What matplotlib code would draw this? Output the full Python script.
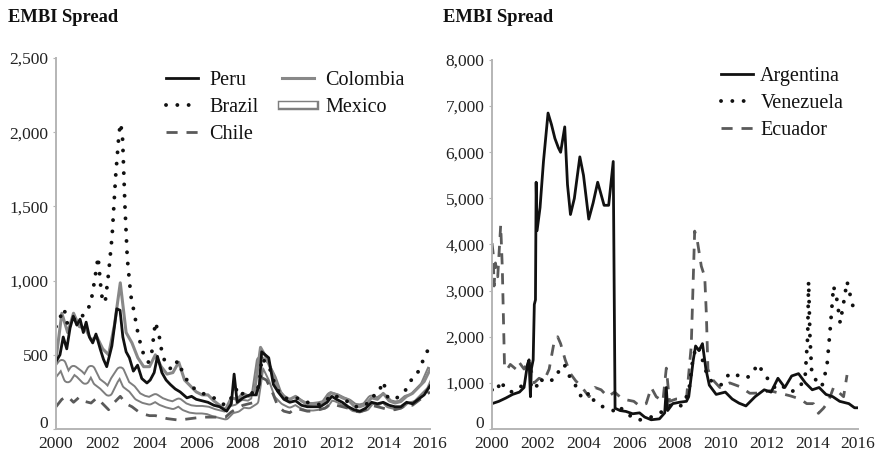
import matplotlib
matplotlib.use('Agg')
import numpy as np
import matplotlib.pyplot as plt
import matplotlib.transforms as mtransforms
from matplotlib.ticker import FuncFormatter, MultipleLocator

plt.rcParams['font.family'] = ['Liberation Serif', 'DejaVu Serif']

# ---------------- data: left panel ----------------
peru_x = [2000.0, 2000.17, 2000.31, 2000.46, 2000.6, 2000.74, 2000.89, 2001.03, 2001.17, 2001.29,
          2001.43, 2001.57, 2001.71, 2001.89, 2002.03, 2002.17, 2002.39, 2002.6, 2002.74, 2002.86,
          2003.0, 2003.14, 2003.31, 2003.49, 2003.67, 2003.89, 2004.03, 2004.2, 2004.34, 2004.53,
          2004.71, 2004.89, 2005.1, 2005.31, 2005.6, 2005.8, 2006.0, 2006.25, 2006.5, 2006.75,
          2007.0, 2007.3, 2007.5, 2007.62, 2007.75, 2008.0, 2008.3, 2008.55, 2008.7, 2008.8,
          2008.95, 2009.1, 2009.3, 2009.5, 2009.75, 2010.0, 2010.25, 2010.5, 2010.75, 2011.0,
          2011.3, 2011.6, 2011.8, 2012.0, 2012.25, 2012.5, 2012.75, 2013.0, 2013.25, 2013.5,
          2013.75, 2014.0, 2014.25, 2014.5, 2014.75, 2015.0, 2015.25, 2015.5, 2015.75, 2016.0]
peru_y = [454, 500, 620, 540, 680, 760, 700, 740, 650, 720,
          620, 580, 640, 540, 470, 420, 560, 810, 800, 620,
          520, 480, 390, 430, 340, 310, 330, 380, 490, 380,
          330, 300, 270, 250, 210, 220, 200, 190, 180, 160,
          150, 120, 170, 370, 180, 210, 230, 230, 300, 520,
          500, 480, 300, 250, 200, 180, 190, 160, 150, 150,
          150, 180, 220, 200, 180, 150, 130, 120, 140, 180,
          170, 180, 160, 150, 150, 180, 170, 200, 230, 290]

brazil_x = [2000.0, 2000.2, 2000.35, 2000.5, 2000.7, 2000.9, 2001.1, 2001.3, 2001.5, 2001.65,
            2001.8, 2001.95, 2002.1, 2002.25, 2002.4, 2002.55, 2002.7, 2002.77, 2002.85, 2002.95,
            2003.05, 2003.2, 2003.35, 2003.5, 2003.65, 2003.8, 2003.95, 2004.1, 2004.25, 2004.4,
            2004.55, 2004.75, 2005.0, 2005.2, 2005.4, 2005.6, 2005.8, 2006.0, 2006.25, 2006.5,
            2006.75, 2007.0, 2007.25, 2007.5, 2007.7, 2007.85, 2008.0, 2008.25, 2008.5, 2008.7,
            2008.8, 2008.95, 2009.1, 2009.3, 2009.5, 2009.75, 2010.0, 2010.25, 2010.5, 2010.75,
            2011.0, 2011.25, 2011.5, 2011.75, 2012.0, 2012.25, 2012.5, 2012.75, 2013.0, 2013.25,
            2013.5, 2013.75, 2014.0, 2014.2, 2014.5, 2014.75, 2015.0, 2015.2, 2015.4, 2015.6,
            2015.8, 2016.0]
brazil_y = [690, 760, 810, 700, 720, 770, 760, 780, 860, 1000,
            1160, 900, 850, 1050, 1300, 1700, 2000, 2060, 1950, 1500,
            1150, 900, 780, 650, 550, 480, 450, 520, 720, 640,
            500, 420, 400, 460, 390, 330, 290, 260, 240, 230,
            210, 180, 160, 210, 270, 220, 240, 260, 230, 300,
            480, 450, 430, 330, 260, 210, 200, 210, 200, 180,
            170, 165, 175, 230, 220, 195, 185, 150, 150, 160,
            220, 230, 320, 210, 200, 230, 270, 330, 350, 430,
            490, 570]

quarters = np.arange(2000.0, 2016.01, 0.25)
colombia_y = [470, 780, 650, 780, 690, 680, 600, 620, 540, 500, 700, 985,
              650, 580, 480, 420, 420, 500, 420, 370, 380, 450, 330, 290,
              250, 230, 230, 190, 160, 130, 210, 200, 240, 220, 260, 550,
              480, 380, 270, 220, 200, 220, 190, 165, 170, 170, 185, 245,
              230, 210, 195, 155, 150, 165, 210, 200, 240, 190, 175, 185,
              220, 240, 280, 320, 400]
mexico_y = [390, 440, 340, 400, 370, 330, 400, 320, 290, 250, 330, 390,
            300, 270, 220, 200, 190, 210, 185, 170, 160, 180, 150, 135,
            130, 130, 125, 110, 100, 90, 130, 140, 170, 165, 190, 460,
            420, 340, 230, 190, 170, 190, 165, 150, 150, 155, 165, 220,
            210, 190, 175, 145, 140, 150, 200, 185, 210, 170, 160, 165,
            200, 210, 250, 290, 380]
chile_y = [150, 200, 220, 180, 215, 185, 175, 210, 170, 130, 180, 220,
           170, 150, 120, 100, 90, 90, 80, 70, 65, 60, 65, 70,
           75, 80, 80, 80, 80, 80, 115, 140, 160, 170, 180, 350,
           330, 250, 150, 120, 110, 140, 130, 120, 120, 130, 140, 170,
           160, 150, 140, 120, 115, 130, 160, 150, 140, 130, 130, 140,
           170, 160, 190, 220, 250]

# ---------------- data: right panel ----------------
arg_x = [2000.0, 2000.3, 2000.6, 2000.9, 2001.2, 2001.4, 2001.55, 2001.62, 2001.68, 2001.72,
         2001.8, 2001.85, 2001.9, 2001.93, 2001.97, 2002.1, 2002.25, 2002.45, 2002.6, 2002.75,
         2002.9, 2003.0, 2003.18, 2003.3, 2003.43, 2003.6, 2003.84, 2004.0, 2004.23, 2004.42,
         2004.62, 2004.9, 2005.1, 2005.3, 2005.38, 2005.6, 2005.86, 2006.15, 2006.45, 2006.67,
         2006.96, 2007.32, 2007.55, 2007.62, 2007.68, 2007.9, 2008.2, 2008.5, 2008.6, 2008.8,
         2008.9, 2009.05, 2009.2, 2009.35, 2009.5, 2009.8, 2010.2, 2010.5, 2010.8, 2011.1,
         2011.5, 2011.9, 2012.2, 2012.5, 2012.8, 2013.1, 2013.4, 2013.7, 2014.0, 2014.3,
         2014.6, 2014.9, 2015.2, 2015.6, 2015.85, 2016.0]
arg_y = [550, 600, 670, 750, 800, 900, 1400, 1500, 700, 1300,
         1500, 2700, 2800, 5350, 4300, 4800, 5800, 6850, 6600, 6300,
         6100, 6000, 6550, 5300, 4650, 5000, 5900, 5500, 4550, 4900,
         5350, 4850, 4850, 5800, 450, 400, 380, 330, 350, 260,
         200, 220, 350, 900, 400, 550, 580, 600, 700, 1500,
         1800, 1700, 1850, 1300, 950, 750, 800, 650, 560, 500,
         700, 850, 800, 1100, 900, 1150, 1200, 1000, 850, 900,
         750, 700, 600, 550, 460, 460]

ven_x = [2000.0, 2000.2, 2000.38, 2000.6, 2000.9, 2001.2, 2001.5, 2001.77, 2001.9, 2002.06,
         2002.35, 2002.57, 2002.8, 2002.95, 2003.16, 2003.38, 2003.6, 2003.82, 2004.04, 2004.26,
         2004.47, 2004.77, 2005.0, 2005.3, 2005.57, 2005.8, 2006.0, 2006.3, 2006.6, 2006.9,
         2007.2, 2007.5, 2007.9, 2008.3, 2008.6, 2008.8, 2009.0, 2009.2, 2009.45, 2009.7,
         2010.0, 2010.39, 2010.69, 2010.98, 2011.27, 2011.64, 2011.86, 2012.15, 2012.44, 2012.73,
         2013.0, 2013.32, 2013.68, 2013.8, 2013.84, 2013.9, 2013.98, 2014.2, 2014.42, 2014.64,
         2014.79, 2014.93, 2015.08, 2015.22, 2015.37, 2015.52, 2015.66, 2015.8, 2015.88]
ven_y = [850, 800, 1050, 850, 800, 900, 1000, 950, 850, 1100,
         1000, 1050, 1100, 1300, 1400, 1150, 1000, 750, 650, 800,
         600, 500, 450, 400, 500, 350, 300, 200, 200, 250,
         300, 400, 550, 500, 800, 1600, 1800, 1500, 1100, 1000,
         950, 1210, 1175, 1100, 1140, 1410, 1210, 1030, 850, 920,
         800, 850, 1065, 2000, 3200, 2000, 1200, 1030, 920, 1350,
         2200, 3100, 2800, 2300, 2730, 3200, 2900, 2620, 2770]

ecu_x = [2000.0, 2000.05, 2000.09, 2000.15, 2000.25, 2000.38, 2000.45, 2000.55, 2000.67, 2000.8,
         2001.04, 2001.18, 2001.4, 2001.62, 2001.84, 2002.06, 2002.28, 2002.5, 2002.72, 2002.87,
         2003.0, 2003.2, 2003.43, 2003.65, 2003.94, 2004.24, 2004.5, 2004.77, 2005.06, 2005.36,
         2005.7, 2006.2, 2006.45, 2006.74, 2006.96, 2007.18, 2007.47, 2007.62, 2007.76, 2008.05,
         2008.5, 2008.71, 2008.86, 2008.97, 2009.15, 2009.3, 2009.37, 2009.44, 2009.59, 2009.96,
         2010.39, 2010.83, 2011.27, 2011.71, 2012.15, 2012.59, 2013.03, 2013.47, 2013.76, 2014.05,
         2014.27, 2014.49, 2014.71, 2014.93, 2015.15, 2015.37, 2015.52]
ecu_y = [4030, 3810, 3100, 3600, 3300, 4420, 3500, 1300, 1300, 1400,
         1300, 1450, 1300, 1500, 1000, 1100, 1050, 1300, 1900, 2000,
         1850, 1500, 1200, 1050, 900, 700, 900, 850, 700, 800,
         650, 600, 500, 550, 900, 700, 600, 1320, 600, 650,
         650, 1800, 4290, 4100, 3530, 3300, 2500, 1300, 1100, 900,
         1000, 920, 775, 780, 830, 775, 720, 650, 550, 550,
         340, 450, 600, 900, 800, 700, 1170]

x_ticks = [2000, 2002, 2004, 2006, 2008, 2010, 2012, 2014, 2016]

for a, b in [(peru_x, peru_y), (brazil_x, brazil_y), (arg_x, arg_y), (ven_x, ven_y), (ecu_x, ecu_y)]:
    assert len(a) == len(b)
for s in (colombia_y, mexico_y, chile_y):
    assert len(s) == len(quarters)

# ---------------- figure ----------------
W, H = 878, 451
fig = plt.figure(figsize=(W / 100, H / 100), dpi=100)
ax1 = fig.add_axes([56 / W, 1 - 429 / H, (430 - 56) / W, (429 - 58) / H])
ax2 = fig.add_axes([492 / W, 1 - 429 / H, (858 - 492) / W, (429 - 60) / H])

DOT = dict(linestyle=(0, (0.01, 2.9)), dash_capstyle='round', linewidth=2.8, color='#111111')
DASH = dict(linestyle=(0, (4.0, 3.2)), linewidth=2.0)

# left panel
l_mex_o, = ax1.plot(quarters, mexico_y, color='#7e7e7e', linewidth=6.8, zorder=2)
l_mex_i, = ax1.plot(quarters, mexico_y, color='white', linewidth=4.0, zorder=2.1)
l_chi, = ax1.plot(quarters, chile_y, color='#5a5a5a', zorder=2.2, **DASH)
l_col, = ax1.plot(quarters, colombia_y, color='#888888', linewidth=2.2, zorder=2.3)
l_per, = ax1.plot(peru_x, peru_y, color='#111111', linewidth=2.0, zorder=2.4)
l_bra, = ax1.plot(brazil_x, brazil_y, zorder=2.5, **DOT)

ax1.set_xlim(2000, 2016)
ax1.set_ylim(0, 2500)
ax1.yaxis.set_major_locator(MultipleLocator(500))

# right panel
l_ecu, = ax2.plot(ecu_x, ecu_y, color='#5a5a5a', zorder=2, **DASH)
l_ven, = ax2.plot(ven_x, ven_y, zorder=2.2, **DOT)
l_arg, = ax2.plot(arg_x, arg_y, color='#111111', linewidth=2.0, zorder=2.4)

ax2.set_xlim(2000, 2016)
ax2.set_ylim(0, 8000)
ax2.yaxis.set_major_locator(MultipleLocator(1000))

# zero label is drawn separately (slightly lifted) so it does not collide with "2000"
fmt = FuncFormatter(lambda v, p: '' if v == 0 else f'{v:,.0f}')
for ax in (ax1, ax2):
    ax.yaxis.set_major_formatter(fmt)
    ax.set_xticks(x_ticks)
    ax.set_xticklabels([str(t) for t in x_ticks])
    for s in ('top', 'right'):
        ax.spines[s].set_visible(False)
    for s in ('left', 'bottom'):
        ax.spines[s].set_color('#b5b5b5')
        ax.spines[s].set_linewidth(1.4)
    ax.tick_params(axis='y', length=2.5, width=0.8, color='#b5b5b5', labelsize=12.5, pad=3,
                   labelcolor='#222222')
    ax.tick_params(axis='x', length=0, labelsize=12.5, pad=5, labelcolor='#222222')
    ax.patch.set_alpha(0)
    off = mtransforms.ScaledTranslation(-5.5 / 72, 5 / 100, fig.dpi_scale_trans)
    ax.text(0, 0, '0', transform=ax.get_yaxis_transform() + off, ha='right', va='center',
            fontsize=12.5, color='#222222')

for fx in (8, 443):
    fig.text(fx / W, 1 - 18 / H, 'EMBI Spread', fontsize=13.3, fontweight='bold',
             va='center', ha='left', color='#111111')

leg1 = ax1.legend([l_per, l_bra, l_chi, l_col, (l_mex_o, l_mex_i)],
                  ['Peru', 'Brazil', 'Chile', 'Colombia', 'Mexico'],
                  ncol=2, frameon=False, loc='upper left',
                  bbox_to_anchor=(166 / W, 1 - 71 / H), bbox_transform=fig.transFigure,
                  fontsize=14.5, handlelength=1.6, handletextpad=0.55, columnspacing=1.15,
                  labelspacing=0.38, borderpad=0, borderaxespad=0)
leg2 = ax2.legend([l_arg, l_ven, l_ecu], ['Argentina', 'Venezuela', 'Ecuador'],
                  frameon=False, loc='upper left',
                  bbox_to_anchor=(721 / W, 1 - 67 / H), bbox_transform=fig.transFigure,
                  fontsize=14.5, handlelength=1.6, handletextpad=0.35,
                  labelspacing=0.38, borderpad=0, borderaxespad=0)
for leg in (leg1, leg2):
    for t in leg.get_texts():
        t.set_color('#111111')

fig.savefig('out.png', dpi=100)
